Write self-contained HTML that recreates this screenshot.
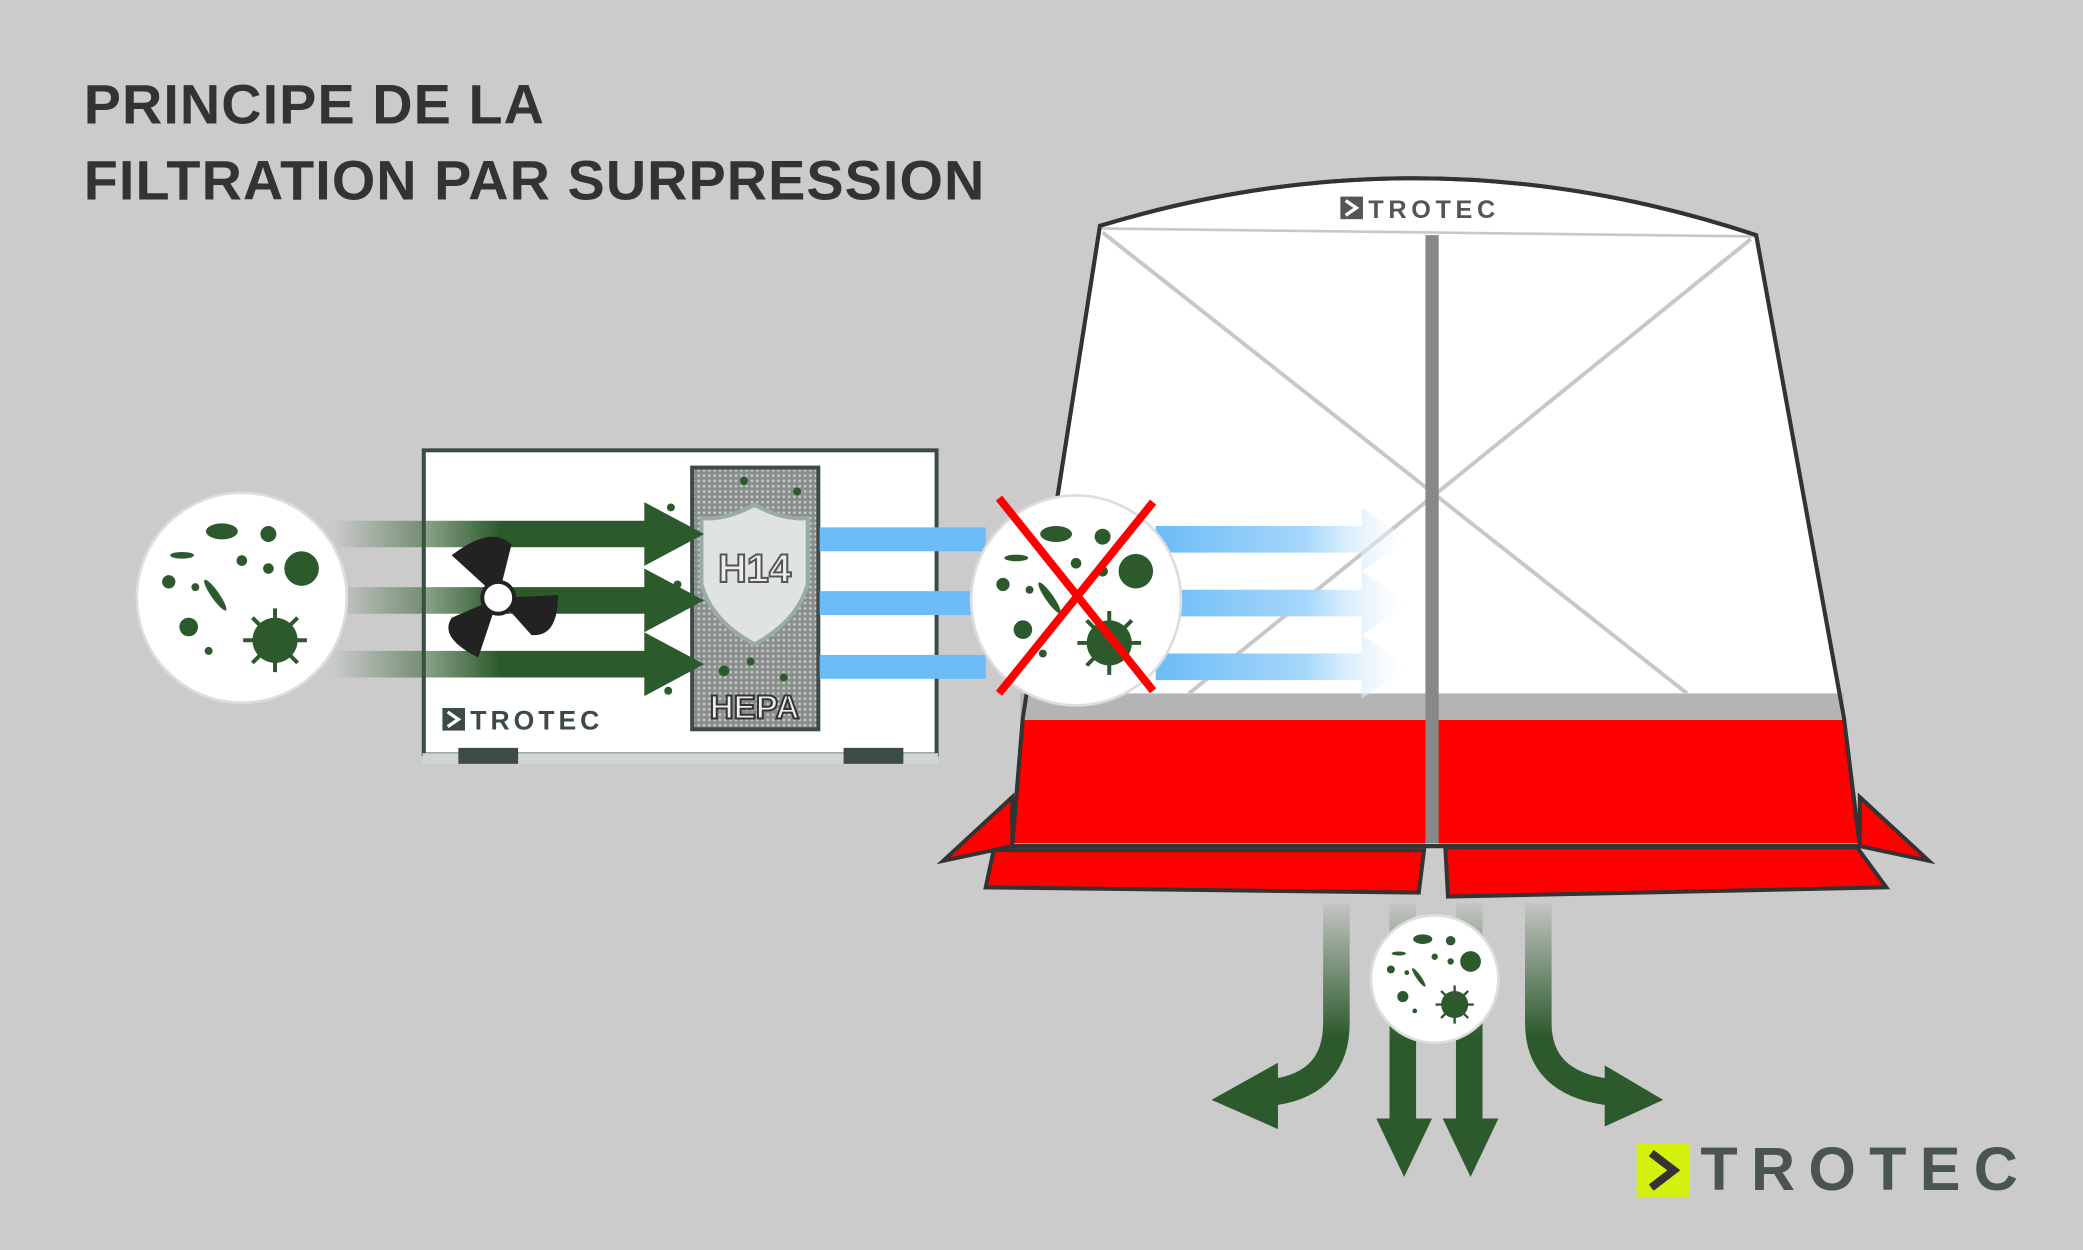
<!DOCTYPE html>
<html><head><meta charset="utf-8"><style>
html,body{margin:0;padding:0;background:#cbcbcb;}
svg{display:block}
</style></head><body>
<svg width="2083" height="1250" viewBox="0 0 1568 941" xmlns="http://www.w3.org/2000/svg">
<defs>
<linearGradient id="gL" x1="0" x2="1"><stop offset="0" stop-color="#2d5a2d" stop-opacity="0"/><stop offset="0.45" stop-color="#2d5a2d"/></linearGradient>
<linearGradient id="bR" x1="0" x2="1"><stop offset="0" stop-color="#6bbcf7"/><stop offset="0.6" stop-color="#a8d7fb"/><stop offset="1" stop-color="#fff" stop-opacity="0.3"/></linearGradient>
<linearGradient id="gD" gradientUnits="userSpaceOnUse" x1="0" y1="675" x2="0" y2="780"><stop offset="0" stop-color="#2d5a2d" stop-opacity="0"/><stop offset="1" stop-color="#2d5a2d"/></linearGradient>
<pattern id="dots" width="4" height="4" patternUnits="userSpaceOnUse"><rect width="4" height="4" fill="#8a8f8e"/><circle cx="2" cy="2" r="1" fill="#c8cccb"/></pattern>
<g id="germs">
<circle cx="45" cy="-22" r="13" fill="#2d5a2d"/><circle cx="20" cy="-48" r="6" fill="#2d5a2d"/><circle cx="-55" cy="-12" r="5" fill="#2d5a2d"/><circle cx="-40" cy="22" r="7" fill="#2d5a2d"/><circle cx="-25" cy="40" r="3" fill="#2d5a2d"/><circle cx="0" cy="-28" r="4" fill="#2d5a2d"/><circle cx="20" cy="-22" r="4" fill="#2d5a2d"/><circle cx="-35" cy="-8" r="3" fill="#2d5a2d"/>
<ellipse cx="-20" cy="-2" rx="14" ry="3" transform="rotate(55 -20 -2)" fill="#2d5a2d"/><ellipse cx="-45" cy="-32" rx="9" ry="2.5" fill="#2d5a2d"/>
<ellipse cx="-15" cy="-50" rx="12" ry="6" fill="#2d5a2d"/>
<circle cx="25" cy="32" r="17" fill="#2d5a2d"/><g stroke="#2d5a2d" stroke-width="3"><line x1="25" y1="8" x2="25" y2="56"/><line x1="1" y1="32" x2="49" y2="32"/><line x1="8" y1="15" x2="42" y2="49"/><line x1="42" y1="15" x2="8" y2="49"/></g>
</g>
</defs>
<rect width="1568" height="941" fill="#cbcbcb"/>
<g font-family="Liberation Sans, sans-serif" font-weight="bold" fill="#333" font-size="42" letter-spacing="0.8">
<text x="63" y="93">PRINCIPE DE LA</text><text x="63" y="150">FILTRATION PAR SURPRESSION</text></g>

<!-- tent -->
<path d="M710,648 L762,600 L762,637 Z" fill="#f00" stroke="#333" stroke-width="3"/>
<path d="M1452,648 L1400,600 L1400,637 Z" fill="#f00" stroke="#333" stroke-width="3"/>
<path d="M828,170 Q1075,95 1322,177 L1388,540 L1400,637 L762,637 L770,540 Z" fill="#fff" stroke="#333" stroke-width="3"/>
<path d="M769,542 L1388,542 L1400,635 L762,635 Z" fill="#f00"/>
<rect x="768" y="522" width="620" height="20" fill="#b4b4b4"/>
<line x1="830" y1="175" x2="1270" y2="522" stroke="#c8c8c8" stroke-width="3"/>
<line x1="1318" y1="180" x2="895" y2="522" stroke="#c8c8c8" stroke-width="3"/>
<line x1="828" y1="172" x2="1322" y2="178" stroke="#c8c8c8" stroke-width="2"/>
<rect x="1073" y="177" width="10" height="458" fill="#888"/>
<path d="M828,170 Q1075,95 1322,177 L1388,540 L1400,637 L762,637 L770,540 Z" fill="none" stroke="#333" stroke-width="3"/>
<path d="M748,640 L1072,640 L1068,672 L742,668 Z" fill="#f00" stroke="#333" stroke-width="3"/>
<path d="M1088,638 L1398,638 L1420,668 L1090,675 Z" fill="#f00" stroke="#333" stroke-width="3"/>
<rect x="1009" y="148" width="17" height="17" fill="#555"/><path d="M1013,151 L1021,156.5 L1013,162" fill="none" stroke="#fff" stroke-width="2.5"/>
<text x="1030" y="164" font-family="Liberation Sans, sans-serif" font-weight="bold" font-size="19" fill="#555" letter-spacing="3.5">TROTEC</text>

<!-- machine -->
<rect x="319" y="339" width="386" height="229" fill="#fff" stroke="#3c4a48" stroke-width="3"/>
<rect x="318" y="567" width="388" height="8" fill="#cfd6d5"/>
<rect x="345" y="563" width="45" height="12" fill="#3c4a48"/><rect x="635" y="563" width="45" height="12" fill="#3c4a48"/>
<rect x="333" y="533" width="17" height="17" fill="#3c4a48"/><path d="M337,536 L345,541.5 L337,547" fill="none" stroke="#fff" stroke-width="2.5"/>
<text x="354" y="549" font-family="Liberation Sans, sans-serif" font-weight="bold" font-size="20" fill="#3c4a48" letter-spacing="3">TROTEC</text>
<rect x="521" y="352" width="95" height="197" fill="url(#dots)" stroke="#3c4a48" stroke-width="3"/>
<path d="M568,380 Q590,392 608,390 L608,440 Q600,468 568,485 Q536,468 528,440 L528,390 Q546,392 568,380 Z" fill="#dfe3e2" stroke="#9aa" stroke-width="3"/>
<text x="568" y="438" text-anchor="middle" font-family="Liberation Sans, sans-serif" font-weight="bold" font-size="30" fill="#eee" stroke="#555" stroke-width="1.5">H14</text>
<text x="568" y="541" text-anchor="middle" font-family="Liberation Sans, sans-serif" font-weight="bold" font-size="25" fill="#eee" stroke="#333" stroke-width="1.5">HEPA</text>
<g fill="#2d5a2d"><circle cx="505" cy="382" r="3"/><circle cx="510" cy="440" r="3"/><circle cx="503" cy="520" r="3"/><circle cx="560" cy="362" r="3"/><circle cx="600" cy="370" r="3"/><circle cx="545" cy="505" r="4"/><circle cx="590" cy="510" r="3"/><circle cx="565" cy="498" r="3"/></g>

<!-- green arrows in -->
<g fill="url(#gL)"><path d="M250,392 L485,392 L485,378 L530,402 L485,426 L485,412 L250,412 Z"/>
<path d="M250,442 L485,442 L485,428 L530,452 L485,476 L485,462 L250,462 Z"/>
<path d="M250,490 L485,490 L485,476 L530,500 L485,524 L485,510 L250,510 Z"/></g>
<!-- fan -->
<g fill="#222"><path d="M375,450 L340,418 Q370,395 385,410 Z"/><path d="M375,450 L420,448 Q420,480 400,478 Z"/><path d="M375,450 L360,495 Q330,480 340,465 Z"/></g>
<circle cx="375" cy="450" r="12" fill="#fff" stroke="#222" stroke-width="3"/>

<!-- blue arrows -->
<g fill="#6bbcf7"><rect x="617" y="397" width="125" height="18"/><rect x="617" y="445" width="125" height="18"/><rect x="617" y="493" width="125" height="18"/></g>
<g fill="url(#bR)"><path d="M870,396 L1025,396 L1025,382 L1060,406 L1025,430 L1025,416 L870,416 Z"/>
<path d="M870,444 L1025,444 L1025,430 L1060,454 L1025,478 L1025,464 L870,464 Z"/>
<path d="M870,492 L1025,492 L1025,478 L1060,502 L1025,526 L1025,512 L870,512 Z"/></g>

<!-- circles -->
<circle cx="182" cy="450" r="79" fill="#fff" stroke="#ddd" stroke-width="2"/>
<use href="#germs" transform="translate(182,450)"/>
<circle cx="810" cy="452" r="79" fill="#fff" stroke="#ddd" stroke-width="2"/>
<use href="#germs" transform="translate(810,452)"/>
<g stroke="#f00" stroke-width="6"><line x1="752" y1="375" x2="868" y2="520"/><line x1="868" y1="378" x2="752" y2="522"/></g>

<!-- down arrows -->
<g fill="none" stroke="url(#gD)" stroke-width="20">
<path d="M1006,680 L1006,770 Q1006,815 960,822"/>
<path d="M1158,680 L1158,770 Q1158,815 1210,822"/>
<path d="M1056,680 L1056,845"/><path d="M1106,680 L1106,845"/></g>
<g fill="#2d5a2d"><path d="M962,800 L912,828 L962,850 Z"/><path d="M1208,802 L1252,828 L1208,848 Z"/>
<path d="M1036,842 L1078,842 L1057,886 Z"/><path d="M1086,842 L1128,842 L1107,886 Z"/></g>
<circle cx="1080" cy="737" r="48" fill="#fff" stroke="#ddd" stroke-width="2"/>
<use href="#germs" transform="translate(1080,737) scale(0.6)"/>

<!-- logo -->
<rect x="1232" y="861" width="40" height="40" fill="#d4f00f"/>
<path d="M1243,868 L1260,881 L1243,894" fill="none" stroke="#333" stroke-width="6"/>
<text x="1280" y="896" font-family="Liberation Sans, sans-serif" font-weight="bold" font-size="46" fill="#4a5553" letter-spacing="9" textLength="248">TROTEC</text>
</svg>
</body></html>
